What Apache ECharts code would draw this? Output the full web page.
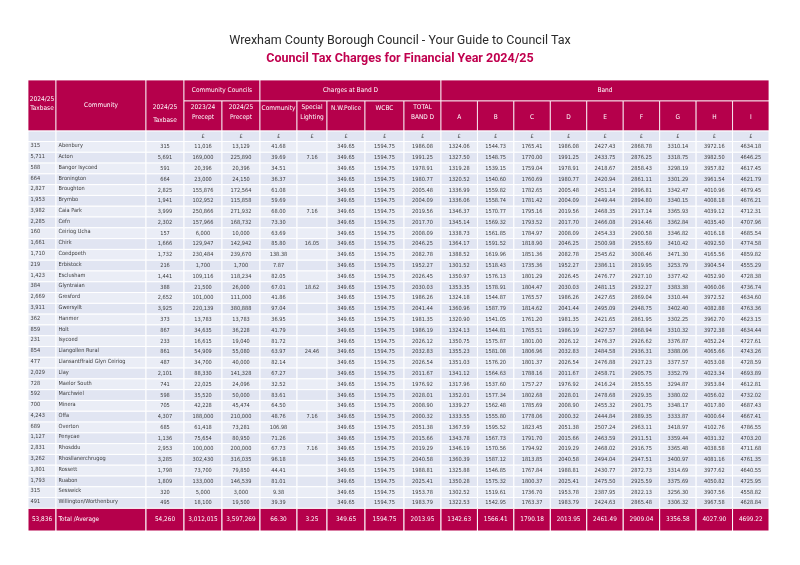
<!DOCTYPE html>
<html>
<head>
<meta charset="utf-8">
<script src="https://cdn.jsdelivr.net/npm/echarts@6/dist/echarts.min.js"></script>
<style>
  html, body { margin: 0; background: #fff; }
  #main { width: 800px; height: 565px; }
</style>
</head>
<body>
<div id="main"></div>
<script>
const communities = ["Abenbury", "Acton", "Bangor Isycoed", "Bronington", "Broughton", "Brymbo", "Caia Park", "Cefn",
  "Ceiriog Ucha", "Chirk", "Coedpoeth", "Erbistock", "Esclusham", "Glyntraian", "Gresford", "Gwersyllt", "Hanmer", "Holt",
  "Isycoed", "Llangollen Rural", "Llansantffraid Glyn Ceiriog", "Llay", "Maelor South", "Marchwiel", "Minera", "Offa",
  "Overton", "Penycae", "Rhosddu", "Rhosllanerchrugog", "Rossett", "Ruabon", "Sesswick", "Willington/Worthenbury"];
const taxbaseFirst = ["315", "5,711", "588", "664", "2,827", "1,953", "3,982", "2,285", "160", "1,661", "1,710", "219",
  "1,423", "384", "2,669", "3,911", "362", "859", "231", "854", "477", "2,029", "728", "592", "700", "4,243", "689",
  "1,127", "2,831", "3,262", "1,801", "1,793", "315", "491"];
const taxbase = ["315", "5,691", "591", "664", "2,825", "1,941", "3,999", "2,302", "157", "1,666", "1,732", "216",
  "1,441", "388", "2,652", "3,925", "373", "867", "233", "861", "487", "2,101", "741", "598", "705", "4,307", "685",
  "1,136", "2,953", "3,285", "1,798", "1,809", "320", "495"];
const precept2324 = ["11,016", "169,000", "20,396", "23,000", "155,876", "102,952", "250,866", "157,966", "6,000",
  "129,947", "230,484", "1,700", "109,116", "21,500", "101,000", "220,139", "13,783", "34,635", "16,615", "54,909",
  "34,700", "88,330", "22,025", "35,520", "42,228", "188,000", "61,418", "75,654", "100,000", "302,430", "73,700",
  "133,000", "5,000", "18,100"];
const precept2425 = ["13,129", "225,890", "20,396", "24,150", "172,564", "115,858", "271,932", "168,732", "10,000",
  "142,942", "239,670", "1,700", "118,234", "26,000", "111,000", "380,888", "13,783", "36,228", "19,040", "55,080",
  "40,000", "141,328", "24,096", "50,000", "45,474", "210,000", "73,281", "80,950", "200,000", "316,035", "79,850",
  "146,539", "3,000", "19,500"];
const communityCharge = ["41.68", "39.69", "34.51", "36.37", "61.08", "59.69", "68.00", "73.30", "63.69", "85.80",
  "138.38", "7.87", "82.05", "67.01", "41.86", "97.04", "36.95", "41.79", "81.72", "63.97", "82.14", "67.27", "32.52",
  "83.61", "64.50", "48.76", "106.98", "71.26", "67.73", "96.18", "44.41", "81.01", "9.38", "39.39"];
const specialLighting = ["", "7.16", "", "", "", "", "7.16", "", "", "16.05", "", "", "", "18.62", "", "", "", "", "",
  "24.46", "", "", "", "", "", "7.16", "", "", "7.16", "", "", "", "", ""];
const policeCharge = "349.65";
const wcbcCharge = "1594.75";
const totalBandD = ["1986.08", "1991.25", "1978.91", "1980.77", "2005.48", "2004.09", "2019.56", "2017.70", "2008.09",
  "2046.25", "2082.78", "1952.27", "2026.45", "2030.03", "1986.26", "2041.44", "1981.35", "1986.19", "2026.12",
  "2032.83", "2026.54", "2011.67", "1976.92", "2028.01", "2008.90", "2000.32", "2051.38", "2015.66", "2019.29",
  "2040.58", "1988.81", "2025.41", "1953.78", "1983.79"];
const bandA = ["1324.06", "1327.50", "1319.28", "1320.52", "1336.99", "1336.06", "1346.37", "1345.14", "1338.73",
  "1364.17", "1388.52", "1301.52", "1350.97", "1353.35", "1324.18", "1360.96", "1320.90", "1324.13", "1350.75",
  "1355.23", "1351.03", "1341.12", "1317.96", "1352.01", "1339.27", "1333.55", "1367.59", "1343.78", "1346.19",
  "1360.39", "1325.88", "1350.28", "1302.52", "1322.53"];
const bandB = ["1544.73", "1548.75", "1539.15", "1540.60", "1559.82", "1558.74", "1570.77", "1569.32", "1561.85",
  "1591.52", "1619.96", "1518.43", "1576.13", "1578.91", "1544.87", "1587.79", "1541.05", "1544.81", "1575.87",
  "1581.08", "1576.20", "1564.63", "1537.60", "1577.34", "1562.48", "1555.80", "1595.52", "1567.73", "1570.56",
  "1587.12", "1546.85", "1575.32", "1519.61", "1542.95"];
const bandC = ["1765.41", "1770.00", "1759.04", "1760.69", "1782.65", "1781.42", "1795.16", "1793.52", "1784.97",
  "1818.90", "1851.36", "1735.36", "1801.29", "1804.47", "1765.57", "1814.62", "1761.20", "1765.51", "1801.00",
  "1806.96", "1801.37", "1788.16", "1757.27", "1802.68", "1785.69", "1778.06", "1823.45", "1791.70", "1794.92",
  "1813.85", "1767.84", "1800.37", "1736.70", "1763.37"];
const bandD = totalBandD;
const bandE = ["2427.43", "2433.75", "2418.67", "2420.94", "2451.14", "2449.44", "2468.35", "2466.08", "2454.33",
  "2500.98", "2545.62", "2386.11", "2476.77", "2481.15", "2427.65", "2495.09", "2421.65", "2427.57", "2476.37",
  "2484.58", "2476.88", "2458.71", "2416.24", "2478.68", "2455.32", "2444.84", "2507.24", "2463.59", "2468.02",
  "2494.04", "2430.77", "2475.50", "2387.95", "2424.63"];
const bandF = ["2868.78", "2876.25", "2858.43", "2861.11", "2896.81", "2894.80", "2917.14", "2914.46", "2900.58",
  "2955.69", "3008.46", "2819.95", "2927.10", "2932.27", "2869.04", "2948.75", "2861.95", "2868.94", "2926.62",
  "2936.31", "2927.23", "2905.75", "2855.55", "2929.35", "2901.75", "2889.35", "2963.11", "2911.51", "2916.75",
  "2947.51", "2872.73", "2925.59", "2822.13", "2865.48"];
const bandG = ["3310.14", "3318.75", "3298.19", "3301.29", "3342.47", "3340.15", "3365.93", "3362.84", "3346.82",
  "3410.42", "3471.30", "3253.79", "3377.42", "3383.38", "3310.44", "3402.40", "3302.25", "3310.32", "3376.87",
  "3388.06", "3377.57", "3352.79", "3294.87", "3380.02", "3348.17", "3333.87", "3418.97", "3359.44", "3365.48",
  "3400.97", "3314.69", "3375.69", "3256.30", "3306.32"];
const bandH = ["3972.16", "3982.50", "3957.82", "3961.54", "4010.96", "4008.18", "4039.12", "4035.40", "4016.18",
  "4092.50", "4165.56", "3904.54", "4052.90", "4060.06", "3972.52", "4082.88", "3962.70", "3972.38", "4052.24",
  "4065.66", "4053.08", "4023.34", "3953.84", "4056.02", "4017.80", "4000.64", "4102.76", "4031.32", "4038.58",
  "4081.16", "3977.62", "4050.82", "3907.56", "3967.58"];
const bandI = ["4634.18", "4646.25", "4617.45", "4621.79", "4679.45", "4676.21", "4712.31", "4707.96", "4685.54",
  "4774.58", "4859.82", "4555.29", "4728.38", "4736.74", "4634.60", "4763.36", "4623.15", "4634.44", "4727.61",
  "4743.26", "4728.59", "4693.89", "4612.81", "4732.02", "4687.43", "4667.41", "4786.55", "4703.20", "4711.68",
  "4761.35", "4640.55", "4725.95", "4558.82", "4628.84"];
const totalRow = ["53,836", "Total /Average", "54,260", "3,012,015", "3,597,269", "66.30", "3.25", "349.65", "1594.75",
  "2013.95", "1342.63", "1566.41", "1790.18", "2013.95", "2461.49", "2909.04", "3356.58", "4027.90", "4699.22"];
const bandLetters = ["A", "B", "C", "D", "E", "F", "G", "H", "I"];

// ---- layout (table units = px inside the grid) ----
const RED = "#b5004b";
const STRIPE = ["#e1e5f2", "#eaedf6"];
const FONT = "'Liberation Sans Narrow','DejaVu Sans Condensed',Roboto,sans-serif";
const colEdges = [0, 28, 118, 156, 194, 232, 269, 299, 337, 376, 413];
for (let i = 1; i <= 9; i++) colEdges.push(413 + i * 328 / 9);
const groupBottom = 21, subBottom = 51, poundBottom = 61.5, rowH = 10.79;
const dataTop = poundBottom;
const totalTop = dataTop + communities.length * rowH;
const tableH = 451;

const cells = [];
function addCell(c0, c1, y0, y1, text, opt) {
  cells.push(Object.assign({ c0, c1, y0, y1, text }, opt || {}));
}

// header
const hd = { fill: RED, color: "#fff", size: 6.5, header: true };
addCell(0, 1, 0, subBottom, "2024/25\nTaxbase", Object.assign({ ty: 24, lh: 9 }, hd));
addCell(1, 2, 0, subBottom, "Community", Object.assign({ ty: 25 }, hd));
addCell(2, 3, 0, subBottom, "2024/25\nTaxbase", Object.assign({ ty: 33.5, lh: 13 }, hd));
addCell(3, 5, 0, groupBottom, "Community Councils", Object.assign({ ty: 10.5 }, hd));
addCell(5, 10, 0, groupBottom, "Charges at Band D", Object.assign({ ty: 10.5 }, hd));
addCell(10, 19, 0, groupBottom, "Band", Object.assign({ ty: 10.5 }, hd));
const subHeads = ["2023/24\nPrecept", "2024/25\nPrecept", "Community", "Special\nLighting", "N.W.Police", "WCBC", "TOTAL\nBAND D"];
subHeads.forEach((t, i) => {
  const two = t.indexOf("\n") >= 0;
  addCell(3 + i, 4 + i, groupBottom, subBottom, t, Object.assign({ ty: two ? 32 : 28, lh: 10 }, hd));
});
bandLetters.forEach((t, i) => addCell(10 + i, 11 + i, groupBottom, subBottom, t, Object.assign({ ty: 37.5 }, hd)));

// £ row
for (let c = 0; c < 19; c++) {
  addCell(c, c + 1, subBottom, poundBottom, c >= 3 ? "£" : "", { fill: STRIPE[0], color: "#444", size: 5.6 });
}

// body
const bandCols = [bandA, bandB, bandC, bandD, bandE, bandF, bandG, bandH, bandI];
communities.forEach((name, r) => {
  const y0 = dataTop + r * rowH, y1 = y0 + rowH;
  const fill = STRIPE[(r + 1) % 2];
  const row = [taxbaseFirst[r], name, taxbase[r], precept2324[r], precept2425[r], communityCharge[r],
    specialLighting[r], policeCharge, wcbcCharge, totalBandD[r]].concat(bandCols.map(b => b[r]));
  row.forEach((t, c) => {
    addCell(c, c + 1, y0, y1, t, { fill, color: "#3c3c3c", size: 5.6, left: c < 2, lift: c < 2 ? 1.2 : 0 });
  });
});

// total row
totalRow.forEach((t, c) => {
  addCell(c, c + 1, totalTop, tableH, t, { fill: RED, color: "#fff", size: 6.4, left: c === 1 });
});

const chart = echarts.init(document.getElementById("main"));

const option = {
  animation: false,
  title: [
    {
      text: "Wrexham County Borough Council - Your Guide to Council Tax",
      left: "center",
      top: 29,
      textStyle: { fontFamily: "Roboto", fontSize: 12.5, fontWeight: "normal", color: "#2b2b2b" },
    },
    {
      text: "Council Tax Charges for Financial Year 2024/25",
      left: "center",
      top: 47,
      textStyle: { fontFamily: "Roboto", fontSize: 12.5, fontWeight: "bold", color: "#c0004e" },
    },
  ],
  grid: { left: 28, top: 80, width: 741, height: tableH },
  xAxis: { type: "value", min: 0, max: 741, show: false },
  yAxis: { type: "value", min: 0, max: tableH, inverse: true, show: false },
  series: [
    {
      type: "custom",
      clip: false,
      encode: { x: [0, 1], y: [2, 3] },
      data: cells.map(c => [colEdges[c.c0], colEdges[c.c1], c.y0, c.y1]),
      renderItem: function (params, api) {
        const cell = cells[params.dataIndex];
        const p0 = api.coord([api.value(0), api.value(2)]);
        const p1 = api.coord([api.value(1), api.value(3)]);
        const w = p1[0] - p0[0], h = p1[1] - p0[1];
        let ty = p0[1] + h / 2;
        if (cell.ty != null) ty = api.coord([0, cell.ty])[1];
        return {
          type: "group",
          children: [
            {
              type: "rect",
              shape: { x: p0[0], y: p0[1], width: w, height: h },
              style: { fill: cell.fill, stroke: cell.header ? "rgba(255,255,255,0.8)" : "#fff", lineWidth: 1 },
            },
            {
              type: "text",
              style: {
                text: cell.text,
                x: cell.left ? p0[0] + 2.5 : p0[0] + w / 2,
                y: ty - (cell.lift || 0),
                align: cell.left ? "left" : "center",
                verticalAlign: "middle",
                fill: cell.color,
                fontSize: cell.size,
                lineHeight: cell.lh || cell.size + 2,
                fontFamily: FONT,
              },
            },
          ],
        };
      },
    },
  ],
};

chart.setOption(option);
</script>
</body>
</html>
